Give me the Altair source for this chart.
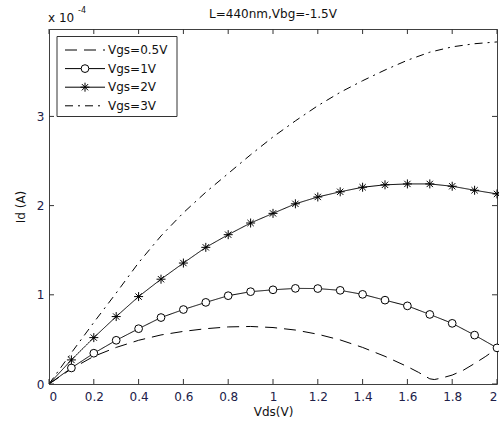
import altair as alt
import pandas as pd

# ---------------- data (Id in units of 1e-4 A) ----------------
series_names = ["Vgs=0.5V", "Vgs=1V", "Vgs=2V", "Vgs=3V"]

vds = [0.0, 0.1, 0.2, 0.3, 0.4, 0.5, 0.6, 0.7, 0.8, 0.9, 1.0,
       1.1, 1.2, 1.3, 1.4, 1.5, 1.6, 1.7, 1.8, 1.9, 2.0]

id_1v = [0, 0.18, 0.345, 0.49, 0.62, 0.745, 0.835, 0.915, 0.99, 1.035, 1.056,
         1.072, 1.07, 1.05, 1.005, 0.94, 0.876, 0.78, 0.68, 0.548, 0.405]
id_2v = [0, 0.27, 0.52, 0.756, 0.98, 1.175, 1.356, 1.532, 1.674, 1.805, 1.913,
         2.02, 2.097, 2.155, 2.206, 2.233, 2.243, 2.243, 2.217, 2.172, 2.131]
id_3v = [0, 0.35, 0.69, 1.02, 1.36, 1.66, 1.92, 2.15, 2.36, 2.57, 2.77,
         2.95, 3.12, 3.27, 3.40, 3.52, 3.63, 3.72, 3.78, 3.815, 3.835]

vds_05 = [0.0, 0.1, 0.2, 0.3, 0.4, 0.5, 0.6, 0.7, 0.8, 0.9, 1.0, 1.1, 1.2,
          1.3, 1.4, 1.5, 1.6, 1.65, 1.7, 1.72, 1.75, 1.8, 1.85, 1.9, 1.95, 2.0]
id_05v = [0, 0.17, 0.31, 0.41, 0.49, 0.55, 0.59, 0.62, 0.64, 0.645, 0.633, 0.605,
          0.558, 0.494, 0.41, 0.31, 0.195, 0.13, 0.058, 0.05, 0.065, 0.1, 0.155,
          0.23, 0.31, 0.40]

x_ticks = [0, 0.2, 0.4, 0.6, 0.8, 1, 1.2, 1.4, 1.6, 1.8, 2]
y_ticks = [0, 1, 2, 3]

title_text = "L=440nm,Vbg=-1.5V"
x_title = "Vds(V)"
y_title = "Id (A)"

# ---------------- tables ----------------
rows = []
for x, y in zip(vds_05, id_05v):
    rows.append({"series": series_names[0], "vds": x, "id": y})
for name, vals in zip(series_names[1:], [id_1v, id_2v, id_3v]):
    for x, y in zip(vds, vals):
        rows.append({"series": name, "vds": x, "id": y})
df = pd.DataFrame(rows)

xt_df = pd.DataFrame({"t": x_ticks})
yt_df = pd.DataFrame({"t": y_ticks})
leg_df = pd.DataFrame({"series": series_names, "idx": list(range(len(series_names)))})
one_df = pd.DataFrame({"a": [0]})

W, H = 448, 355
FONT = "DejaVu Sans"
LBL = "#202048"

x_scale = alt.Scale(domain=[0, 2], nice=False, zero=False)
y_scale = alt.Scale(domain=[0, 3.98], nice=False, zero=False)

dash_scale = alt.Scale(domain=series_names,
                       range=[[12, 7], [1, 0], [1, 0], [8, 5, 2, 5]])
ASTER = "M0,-1L0,1M-1,0L1,0M-0.7,-0.7L0.7,0.7M-0.7,0.7L0.7,-0.7"
marker_series = ["Vgs=1V", "Vgs=2V"]
shape_scale = alt.Scale(domain=marker_series, range=["circle", ASTER])
size_scale = alt.Scale(domain=marker_series, range=[60, 81])

x_axis = alt.Axis(values=x_ticks, format="~g", ticks=False, domain=False, grid=False,
                  labelFont=FONT, labelFontSize=12, labelColor=LBL, labelPadding=7,
                  title=x_title, titleFont=FONT, titleFontSize=12, titleFontWeight="normal",
                  titleColor="#111", titlePadding=4)
y_axis = alt.Axis(values=y_ticks, format="d", ticks=False, domain=False, grid=False,
                  labelFont=FONT, labelFontSize=12, labelColor=LBL, labelPadding=5,
                  title=y_title, titleFont=FONT, titleFontSize=12, titleFontWeight="normal",
                  titleColor="#111", titlePadding=9)

base = alt.Chart(df)

lines = base.mark_line(color="black", strokeWidth=1).encode(
    x=alt.X("vds:Q", scale=x_scale, axis=x_axis),
    y=alt.Y("id:Q", scale=y_scale, axis=y_axis),
    detail="series:N",
    strokeDash=alt.StrokeDash("series:N", scale=dash_scale, legend=None),
)

points = base.transform_filter(
    alt.FieldOneOfPredicate(field="series", oneOf=marker_series)
).transform_filter("datum.vds > 0").mark_point(
    filled=True, fill="white", stroke="black", strokeWidth=1, opacity=1
).encode(
    x=alt.X("vds:Q", scale=x_scale),
    y=alt.Y("id:Q", scale=y_scale),
    shape=alt.Shape("series:N", scale=shape_scale, legend=None),
    size=alt.Size("series:N", scale=size_scale, legend=None),
)

# inward ticks on all four sides
tick_col = "#333"
bot_ticks = alt.Chart(xt_df).mark_rule(color=tick_col, strokeWidth=1).encode(
    x=alt.X("t:Q", scale=x_scale), y=alt.value(H), y2=alt.value(H - 5))
top_ticks = alt.Chart(xt_df).mark_rule(color=tick_col, strokeWidth=1).encode(
    x=alt.X("t:Q", scale=x_scale), y=alt.value(0), y2=alt.value(5))
left_ticks = alt.Chart(yt_df).mark_rule(color=tick_col, strokeWidth=1).encode(
    y=alt.Y("t:Q", scale=y_scale), x=alt.value(0), x2=alt.value(5))
right_ticks = alt.Chart(yt_df).mark_rule(color=tick_col, strokeWidth=1).encode(
    y=alt.Y("t:Q", scale=y_scale), x=alt.value(W), x2=alt.value(W - 5))

# title and exponent annotation
title_mark = alt.Chart(one_df).mark_text(
    text=title_text, font=FONT, fontSize=12, align="center", baseline="alphabetic", color="#111"
).encode(x=alt.value(W / 2), y=alt.value(-11.5))
exp_main = alt.Chart(one_df).mark_text(
    text="x 10", font=FONT, fontSize=12, align="left", baseline="alphabetic", color="#111"
).encode(x=alt.value(-1), y=alt.value(-7.5))
exp_sup = alt.Chart(one_df).mark_text(
    text="-4", font=FONT, fontSize=8, align="left", baseline="alphabetic", color="#111"
).encode(x=alt.value(29), y=alt.value(-16))

# legend box
leg_box = alt.Chart(one_df).mark_rect(fill="white", stroke="#333", strokeWidth=1).encode(
    x=alt.value(8), x2=alt.value(128), y=alt.value(7.5), y2=alt.value(87.5))
leg_base = alt.Chart(leg_df).transform_calculate(ly="21 + 18.6 * datum.idx")
leg_lines = leg_base.mark_rule(color="black", strokeWidth=1).encode(
    x=alt.value(16), x2=alt.value(56),
    y=alt.Y("ly:Q", scale=None, axis=None),
    strokeDash=alt.StrokeDash("series:N", scale=dash_scale, legend=None),
)
leg_pts = leg_base.transform_filter(
    alt.FieldOneOfPredicate(field="series", oneOf=marker_series)
).mark_point(filled=True, fill="white", stroke="black", strokeWidth=1, opacity=1).encode(
    x=alt.value(36),
    y=alt.Y("ly:Q", scale=None, axis=None),
    shape=alt.Shape("series:N", scale=shape_scale, legend=None),
    size=alt.Size("series:N", scale=size_scale, legend=None),
)
leg_text = leg_base.mark_text(font=FONT, fontSize=12, align="left", baseline="middle",
                              color="#111").encode(
    x=alt.value(59),
    y=alt.Y("ly:Q", scale=None, axis=None),
    text="series:N",
)

chart = alt.layer(
    lines, points, bot_ticks, top_ticks, left_ticks, right_ticks,
    title_mark, exp_main, exp_sup, leg_box, leg_lines, leg_pts, leg_text
).properties(
    width=W, height=H,
    autosize=alt.AutoSizeParams(type="none"),
    padding={"left": 49, "top": 29, "right": 2, "bottom": 41},
    background="white",
).configure_view(stroke="#404040", strokeWidth=1)

chart.save("out.html", embed_options={"renderer": "svg", "actions": False})
